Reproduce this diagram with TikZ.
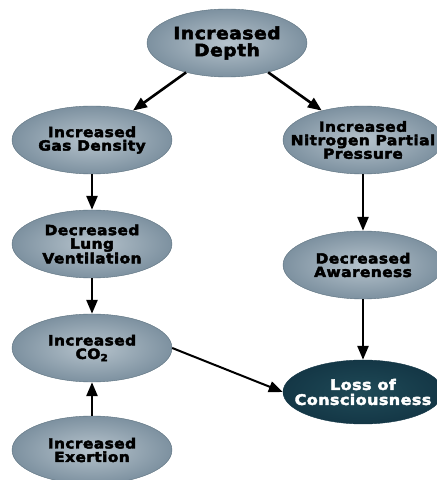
\documentclass[tikz,border=0pt]{standalone}
\usepackage{fontspec}
\usepackage{tikz}
\usetikzlibrary{positioning}
\usetikzlibrary{shapes,arrows,arrows.meta}
\newfontfamily\bubblefont[LetterSpace=3, FakeStretch=1.1, BoldFeatures={FakeBold=3}]{DejaVu Sans}
\definecolor{bubblein}{HTML}{B6C3CC}
\definecolor{bubbleout}{HTML}{7D91A0}
\definecolor{bubbleline}{HTML}{5A6F7D}
\definecolor{lossin}{HTML}{1F4A57}
\definecolor{lossout}{HTML}{143746}
\tikzset{%
  bubble/.style  = {ellipse, draw=bubbleline, thin, shade, inner color=bubblein,
    outer color=bubbleout, minimum width=160pt, minimum height=68pt,
    align=center, inner sep=0pt, font=\bubblefont\bfseries\fontsize{14}{13.5}\selectfont},
  bigbubble/.style = {bubble, font=\bubblefont\bfseries\fontsize{17}{17}\selectfont},
  widebubble/.style = {bubble, inner xsep=-20pt}, % text runs to the rim
  darkbubble/.style = {widebubble, draw=lossout, inner color=lossin, outer color=lossout,
    text=white, minimum height=64pt, font=\bubblefont\bfseries\fontsize{14.5}{15}\selectfont},
  link/.style = {->, line width=2.6pt}
}

\begin{document}
\begin{tikzpicture}[x=1pt, y=1pt, auto, >={Triangle[length=14pt,width=11pt]}]
  \clip (0,0) rectangle (437,480);

  \draw node at (227,437) [bigbubble] (depth) {Increased\\Depth};
  \draw node at (92,340) [bubble] (gas) {Increased\\Gas Density};
  \draw node at (363,340) [widebubble] (nitro) {Increased\\Nitrogen Partial\\Pressure};

  % left column
  \draw node [bubble, below of=gas, node distance=104pt] (lung) {Decreased\\Lung\\Ventilation};
  \draw node [bubble, below of=lung, node distance=104pt] (co) {Increased\\CO\textsubscript{2}};
  \draw node [bubble, below of=co, node distance=102pt] (exert) {Increased\\Exertion};

  % right column
  \draw node [bubble, below of=nitro, node distance=125pt] (aware) {Decreased\\Awareness};
  \draw node [darkbubble, below of=aware, node distance=127pt] (loss) {Loss of\\Consciousness};

  \draw[link] (depth) -- (gas);
  \draw[link] (depth) -- (nitro);
  \draw[link] (gas) -- (lung);
  \draw[link] (lung) -- (co);
  \draw[link] (exert) -- (co);
  \draw[link] (nitro) -- (aware);
  \draw[link] (aware) -- (loss);
  \draw[link, line width=2pt] (co.east) -- (loss.west);

\end{tikzpicture}
\end{document}
